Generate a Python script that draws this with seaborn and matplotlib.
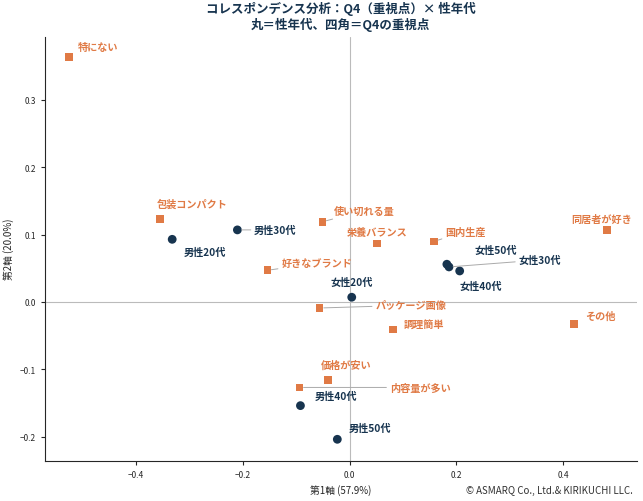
import matplotlib.pyplot as plt
import seaborn as sns
import pandas as pd

# 行ポイント（性年代）
row_labels = ["男性20代", "男性30代", "男性40代", "男性50代", "女性20代", "女性30代", "女性40代", "女性50代"]
row_x = [-0.332, -0.210, -0.092, -0.023, 0.004, 0.186, 0.206, 0.182]
row_y = [0.093, 0.107, -0.154, -0.204, 0.007, 0.052, 0.046, 0.056]

# 列ポイント（重視点）
col_labels = ["特にない", "包装コンパクト", "使い切れる量", "好きなブランド", "栄養バランス", "国内生産",
              "同居者が好き", "パッケージ画像", "調理簡単", "その他", "価格が安い", "内容量が多い"]
col_x = [-0.525, -0.355, -0.051, -0.154, 0.051, 0.158, 0.482, -0.056, 0.081, 0.420, -0.041, -0.094]
col_y = [0.364, 0.123, 0.119, 0.047, 0.087, 0.090, 0.107, -0.009, -0.041, -0.033, -0.116, -0.127]

NAVY = "#17344f"
ORANGE = "#e07a45"

sns.set_style("white")
plt.rcParams['font.family'] = ['Noto Sans CJK JP', 'DejaVu Sans']

df_row = pd.DataFrame({"x": row_x, "y": row_y, "label": row_labels})
df_col = pd.DataFrame({"x": col_x, "y": col_y, "label": col_labels})

fig, ax = plt.subplots(figsize=(6.43, 5.02), dpi=100)
ax.axhline(0, color="#bbbbbb", lw=0.8, zorder=0)
ax.axvline(0, color="#bbbbbb", lw=0.8, zorder=0)
sns.scatterplot(data=df_row, x="x", y="y", ax=ax, color=NAVY, s=40, marker="o", edgecolor="none")
sns.scatterplot(data=df_col, x="x", y="y", ax=ax, color=ORANGE, s=30, marker="s", edgecolor="none")

# ラベル位置オフセット（ポイント単位）と揃え
row_off = {"男性20代": (8, -9, "left"), "男性30代": (12, 0, "left"), "男性40代": (10, 7, "left"),
           "男性50代": (8, 8, "left"), "女性20代": (0, 11, "center"), "女性30代": (50, 5, "left"),
           "女性40代": (0, -11, "left"), "女性50代": (20, 10, "left")}
col_off = {"特にない": (6, 7, "left"), "包装コンパクト": (-2, 11, "left"), "使い切れる量": (8, 8, "left"),
           "好きなブランド": (10, 5, "left"), "栄養バランス": (0, 8, "center"), "国内生産": (8, 7, "left"),
           "同居者が好き": (-26, 8, "left"), "パッケージ画像": (40, 2, "left"), "調理簡単": (8, 4, "left"),
           "その他": (8, 6, "left"), "価格が安い": (-5, 11, "left"), "内容量が多い": (65, 0, "left")}
leader = {"女性30代", "パッケージ画像", "内容量が多い", "使い切れる量", "好きなブランド", "国内生産", "男性30代"}

def label(df, offs, color):
    for _, r in df.iterrows():
        dx, dy, ha = offs[r["label"]]
        kw = {}
        if r["label"] in leader:
            kw["arrowprops"] = dict(arrowstyle="-", color="#aaaaaa", lw=0.7, shrinkA=0, shrinkB=3)
        ax.annotate(r["label"], (r["x"], r["y"]), xytext=(dx, dy), textcoords="offset points",
                    ha=ha, va="center", fontsize=7.3, fontweight="bold", color=color, **kw)

label(df_row, row_off, NAVY)
label(df_col, col_off, ORANGE)

ax.set_xlim(-0.57, 0.537)
ax.set_ylim(-0.236, 0.394)
ax.set_xticks([-0.4, -0.2, 0.0, 0.2, 0.4])
ax.set_yticks([-0.2, -0.1, 0.0, 0.1, 0.2, 0.3])
ax.tick_params(labelsize=6, length=3, left=True, bottom=True)
ax.set_xlabel("第1軸 (57.9%)", fontsize=7)
ax.set_ylabel("第2軸 (20.0%)", fontsize=7)
ax.set_title("コレスポンデンス分析：Q4（重視点）× 性年代\n丸＝性年代、四角＝Q4の重視点",
             fontsize=9, fontweight="bold", color=NAVY, linespacing=1.2)
sns.despine(ax=ax)
fig.text(0.985, 0.012, "© ASMARQ Co., Ltd.& KIRIKUCHI LLC.", ha="right", va="bottom", fontsize=7, color="#333333")
fig.subplots_adjust(left=0.07, right=0.99, top=0.925, bottom=0.08)
fig.savefig("out.png", dpi=100)
